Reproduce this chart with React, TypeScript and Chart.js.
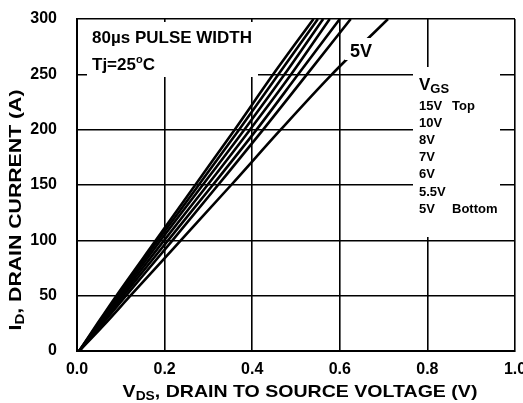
import React, { useEffect, useRef } from "react";
import { Chart, registerables } from "chart.js";

Chart.register(...registerables);

const vgsLabels = ["15V", "10V", "8V", "7V", "6V", "5.5V", "5V"];
const currentLevels = [0, 25, 50, 100, 150, 200, 250, 300];
const vds15 = [0.005, 0.047, 0.09, 0.18, 0.27, 0.36, 0.448, 0.54];
const vds10 = [0.005, 0.049, 0.093, 0.185, 0.278, 0.37, 0.46, 0.55];
const vds8 = [0.005, 0.051, 0.097, 0.191, 0.287, 0.382, 0.474, 0.562];
const vds7 = [0.005, 0.053, 0.101, 0.199, 0.298, 0.395, 0.489, 0.577];
const vds6 = [0.005, 0.056, 0.106, 0.208, 0.31, 0.41, 0.505, 0.6];
const vds55 = [0.005, 0.059, 0.112, 0.218, 0.322, 0.425, 0.525, 0.625];
const vds5 = [0.005, 0.065, 0.122, 0.237, 0.352, 0.465, 0.582, 0.71];
const seriesVds = [vds15, vds10, vds8, vds7, vds6, vds55, vds5];

const xTicks = [0, 0.2, 0.4, 0.6, 0.8, 1.0];
const yTicks = [0, 50, 100, 150, 200, 250, 300];

const FONT = "'Liberation Sans', Arial, sans-serif";

function drawSubText(
  ctx: CanvasRenderingContext2D,
  parts: [string, number, number][],
  cx: number,
  baseY: number,
  stretch: number
) {
  let total = 0;
  const widths = parts.map(([t, fs]) => {
    ctx.font = `bold ${fs}px ${FONT}`;
    const w = ctx.measureText(t).width;
    total += w;
    return w;
  });
  ctx.save();
  ctx.translate(cx, baseY);
  ctx.scale(stretch, 1);
  let x = -total / 2;
  parts.forEach(([t, fs, off], i) => {
    ctx.font = `bold ${fs}px ${FONT}`;
    ctx.fillText(t, x, off);
    x += widths[i];
  });
  ctx.restore();
}

const overlayPlugin = {
  id: "overlay",
  afterDatasetsDraw(chart: any) {
    const ctx = chart.ctx as CanvasRenderingContext2D;
    const xs = chart.scales.x;
    const ys = chart.scales.y;
    ctx.save();
    // white boxes that break the grid
    ctx.fillStyle = "#fff";
    ctx.fillRect(87, 22, 171, 55);
    ctx.fillRect(413, 67, 87, 170);
    ctx.fillRect(345, 38, 32, 22);

    ctx.fillStyle = "#000";
    ctx.textBaseline = "alphabetic";
    ctx.textAlign = "left";
    // annotation
    ctx.font = `bold 17px ${FONT}`;
    ctx.fillText("80\u00b5s PULSE WIDTH", 92, 43);
    let x = 92;
    ctx.fillText("Tj=25", x, 70);
    x += ctx.measureText("Tj=25").width;
    ctx.font = `bold 11px ${FONT}`;
    ctx.fillText("o", x, 63);
    x += ctx.measureText("o").width;
    ctx.font = `bold 17px ${FONT}`;
    ctx.fillText("C", x, 70);

    // 5V label
    ctx.font = `bold 18px ${FONT}`;
    ctx.fillText("5V", 350, 57);

    // legend
    ctx.font = `bold 17px ${FONT}`;
    ctx.fillText("V", 419, 90);
    const vw = ctx.measureText("V").width;
    ctx.font = `bold 13px ${FONT}`;
    ctx.fillText("GS", 419 + vw, 93);
    ctx.font = `bold 13px ${FONT}`;
    vgsLabels.forEach((l, i) => {
      const by = 110 + i * 17.1;
      ctx.fillText(l, 419, by);
      if (i === 0) ctx.fillText("Top", 452, by);
      if (i === vgsLabels.length - 1) ctx.fillText("Bottom", 452, by);
    });

    // x tick labels
    ctx.font = `bold 16px ${FONT}`;
    ctx.textAlign = "center";
    ctx.textBaseline = "middle";
    xs.ticks.forEach((t: any) => {
      ctx.fillText(t.value.toFixed(1), xs.getPixelForValue(t.value), 370);
    });
    // y tick labels
    ctx.textAlign = "right";
    ys.ticks.forEach((t: any) => {
      ctx.fillText(String(t.value), 57, ys.getPixelForValue(t.value));
    });

    // x title
    ctx.textBaseline = "alphabetic";
    ctx.textAlign = "left";
    drawSubText(
      ctx,
      [
        ["V", 17, 0],
        ["DS", 12, 3],
        [", DRAIN TO SOURCE VOLTAGE (V)", 17, 0],
      ],
      300,
      397,
      1.15
    );

    // y title (rotated)
    ctx.save();
    ctx.translate(21, 210);
    ctx.rotate(-Math.PI / 2);
    drawSubText(
      ctx,
      [
        ["I", 17, 0],
        ["D", 12, 3],
        [", DRAIN CURRENT (A)", 17, 0],
      ],
      0,
      0,
      1.25
    );
    ctx.restore();

    ctx.restore();
  },
};

export default function App() {
  const ref = useRef<HTMLCanvasElement | null>(null);
  useEffect(() => {
    if (!ref.current) return;
    const datasets = seriesVds.map((arr, i) => ({
      label: vgsLabels[i],
      data: arr.map((v, j) => ({ x: v, y: currentLevels[j] })),
      borderColor: "#000",
      backgroundColor: "#000",
      borderWidth: 2.6,
      pointRadius: 0,
      cubicInterpolationMode: "monotone" as const,
      fill: false,
    }));
    const chart = new Chart(ref.current, {
      type: "line",
      data: { datasets },
      options: {
        animation: false,
        responsive: false,
        maintainAspectRatio: false,
        layout: { padding: { left: 0, right: 8, top: 19, bottom: 0 } },
        plugins: { legend: { display: false }, tooltip: { enabled: false } },
        scales: {
          x: {
            type: "linear",
            min: 0,
            max: 1,
            afterBuildTicks: (s: any) => {
              s.ticks = xTicks.map((v) => ({ value: v }));
            },
            afterFit: (s: any) => {
              s.height = 52;
            },
            ticks: { display: false },
            grid: { color: "#000", lineWidth: 1.6, drawTicks: false },
            border: { color: "#000", width: 2 },
          },
          y: {
            type: "linear",
            min: 0,
            max: 300,
            afterBuildTicks: (s: any) => {
              s.ticks = yTicks.map((v) => ({ value: v }));
            },
            afterFit: (s: any) => {
              s.width = 77;
            },
            ticks: { display: false },
            grid: { color: "#000", lineWidth: 1.6, drawTicks: false },
            border: { color: "#000", width: 2 },
          },
        },
      },
      plugins: [overlayPlugin],
    });
    return () => chart.destroy();
  }, []);
  return (
    <div style={{ position: "absolute", left: 0, top: 0, width: 523, height: 403, background: "#fff" }}>
      <canvas ref={ref} width={523} height={403} style={{ width: 523, height: 403 }} />
    </div>
  );
}
